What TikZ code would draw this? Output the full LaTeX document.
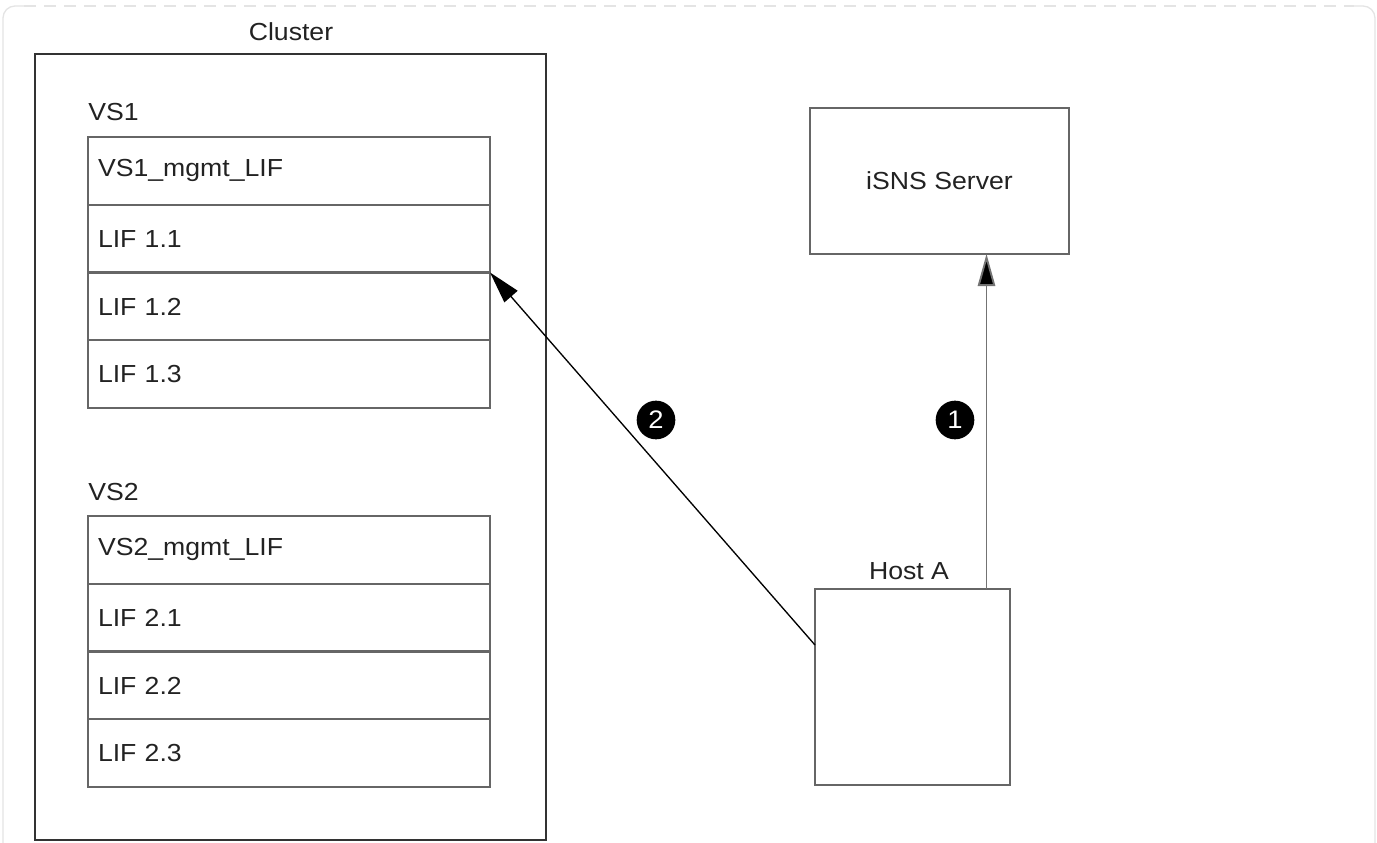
\documentclass[tikz,border=0pt]{standalone}
\usepackage{fontspec}
\setmainfont{Liberation Sans}[FakeStretch=1.08]
\usetikzlibrary{arrows.meta}
\definecolor{boxcol}{HTML}{666666}
\definecolor{txtcol}{HTML}{222222}
\definecolor{framecol}{HTML}{E4E4E4}
\begin{document}
\begin{tikzpicture}[x=0.75pt,y=-0.75pt,
  every node/.style={text=txtcol, font=\fontsize{18.5pt}{22pt}\selectfont},
  lifrow/.style={draw=boxcol, line width=1.5pt, rectangle, minimum width=301.5pt,
    minimum height=50.8pt, text width=286.5pt, inner xsep=7.5pt, inner ysep=0pt,
    outer sep=0pt, align=left},
  plainbox/.style={draw=boxcol, line width=1.5pt, rectangle, inner sep=0pt, outer sep=0pt},
  clusterbox/.style={draw=black!80, line width=1pt, rectangle, inner sep=0pt, outer sep=0pt,
    minimum width=383.25pt, minimum height=589.5pt},
  lbl/.style={inner sep=0pt},
  badge/.style={circle, fill=black, text=white, inner sep=0pt, minimum size=29pt,
    font=\fontsize{19pt}{19pt}\selectfont},
  arr/.style={line width=1pt, -{Triangle[length=24pt,width=13pt,fill=black]}},
]
\useasboundingbox (0,0) rectangle (1377,842);
% outer frame
\draw[framecol, line width=1pt, rounded corners=9pt] (3,860) -- (3,6) -- (24,6);
\draw[framecol, line width=1pt, rounded corners=9pt] (1354,6) -- (1375,6) -- (1375,860);
\draw[framecol, line width=1pt, dash pattern=on 9pt off 6pt] (24,6) -- (1354,6);

% cluster
\node[clusterbox] (cluster) at (290.5,447) {};
\node[lbl] (clusterlbl) at (291,32) {Cluster};

% VS1
\node[lbl, anchor=west] (vs1) at (88,112) {VS1};
\node[lifrow] (vs1mgmt) at (289,170.9) {VS1\_mgmt\_LIF};
\node[lifrow] (lif11) at (289,238.6) {LIF 1.1};
\node[lifrow] (lif12) at (289,306.4) {LIF 1.2};
\node[lifrow] (lif13) at (289,374.1) {LIF 1.3};

% VS2
\node[lbl, anchor=west] (vs2) at (88,492) {VS2};
\node[lifrow] (vs2mgmt) at (289,549.9) {VS2\_mgmt\_LIF};
\node[lifrow] (lif21) at (289,617.6) {LIF 2.1};
\node[lifrow] (lif22) at (289,685.4) {LIF 2.2};
\node[lifrow] (lif23) at (289,753.1) {LIF 2.3};

% iSNS server
\node[plainbox, minimum width=194.25pt, minimum height=109.5pt] (isns) at (939.5,181) {iSNS Server};

% Host A
\node[plainbox, minimum width=146.25pt, minimum height=147pt] (hosta) at (912.5,687) {};
\node[lbl] (hostalbl) at (909,571) {Host A};

% connectors
\draw[arr, draw=black!55, line width=1.4pt]
  ([xshift=55.5pt]hosta.north) -- ([xshift=55.5pt]hosta.north |- isns.south);
\draw[arr, draw=black] ([yshift=31.5pt]hosta.west) -- (lif11.south east);

% badges
\node[badge] (b2) at (656,420) {2};
\node[badge] (b1) at (955,420) {1};
\end{tikzpicture}
\end{document}
